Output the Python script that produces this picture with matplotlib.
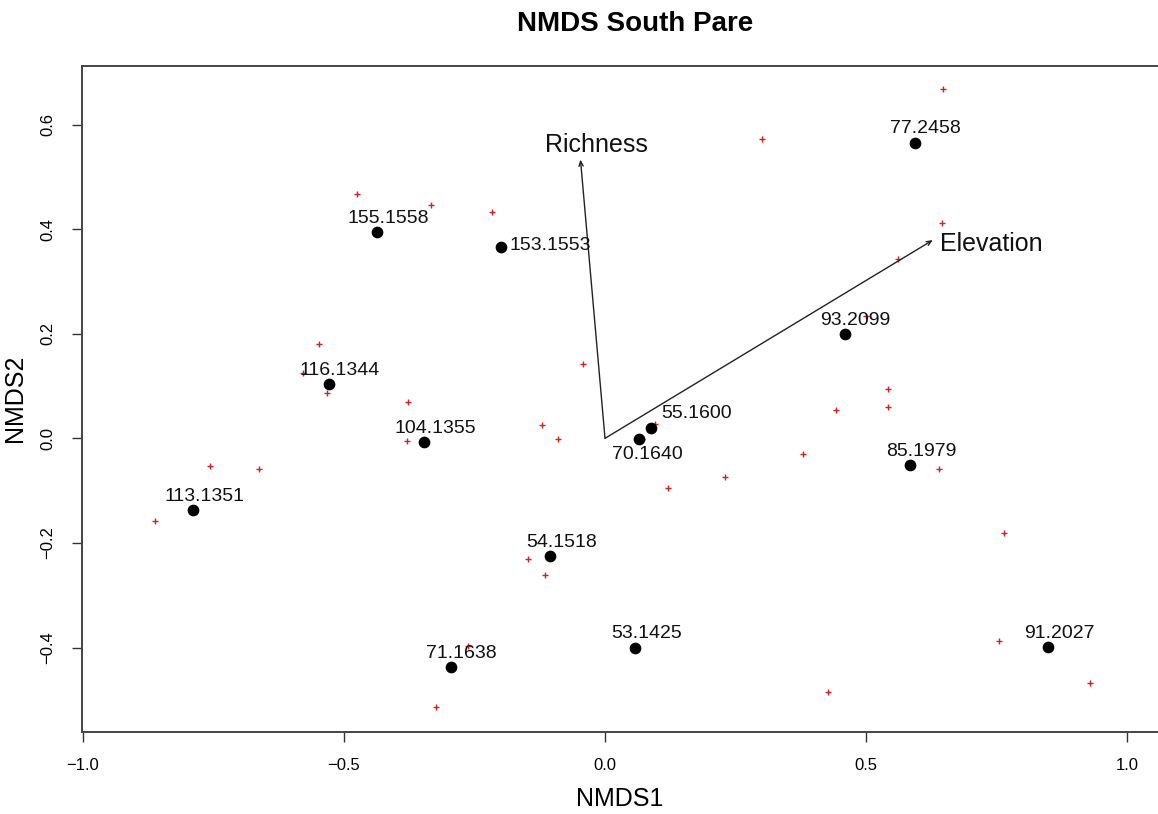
"""
NMDS ordination plot for the South Pare sites
"""

import matplotlib.pyplot as plt

plt.rcParams['font.family'] = ['Liberation Sans', 'DejaVu Sans']

# site scores (black points) and their labels
site_labels = ["155.1558", "116.1344", "113.1351", "153.1553", "104.1355",
               "55.1600", "70.1640", "77.2458", "93.2099", "85.1979",
               "54.1518", "53.1425", "71.1638", "91.2027"]
site_x = [-0.436, -0.529, -0.789, -0.199, -0.347, 0.089, 0.066, 0.593,
          0.459, 0.585, -0.105, 0.058, -0.296, 0.849]
site_y = [0.394, 0.104, -0.137, 0.366, -0.007, 0.020, -0.001, 0.565,
          0.199, -0.051, -0.225, -0.400, -0.438, -0.399]

# species scores (red crosses)
species_x = [-0.476, -0.547, -0.578, -0.533, -0.333, -0.217, -0.042, -0.377,
             -0.379, -0.120, -0.091, 0.071, 0.096, 0.230, 0.121, 0.300,
             -0.757, -0.663, -0.863, 0.648, 0.645, 0.562, 0.500, 0.542,
             0.543, 0.443, 0.379, 0.640, 0.764, 0.755, 0.929, 0.428,
             -0.148, -0.115, -0.324, -0.262]
species_y = [0.467, 0.180, 0.125, 0.087, 0.447, 0.432, 0.143, 0.069,
             -0.005, 0.025, -0.001, -0.001, 0.027, -0.074, -0.095, 0.572,
             -0.053, -0.059, -0.158, 0.667, 0.412, 0.342, 0.234, 0.094,
             0.060, 0.054, -0.030, -0.059, -0.181, -0.388, -0.467, -0.485,
             -0.230, -0.262, -0.513, -0.397]

# fitted environmental vectors
env_names = ["Richness", "Elevation"]
env_x = [-0.047, 0.628]
env_y = [0.533, 0.379]

xticks = [-1.0, -0.5, 0.0, 0.5, 1.0]
yticks = [-0.4, -0.2, 0.0, 0.2, 0.4, 0.6]


def tick_fmt(v):
    return ("%.1f" % v).replace("-", "\u2212")


fig = plt.figure(figsize=(11.58, 8.14), dpi=100)
ax = fig.add_axes([0.0708, 0.1007, 0.9292, 0.8188])

ax.scatter(species_x, species_y, marker='+', s=24, color='#d42020',
           linewidths=1.0, zorder=2)
ax.scatter(site_x, site_y, s=55, color='black', zorder=3)

# label placement: default is above, a few sit elsewhere
offsets = {"153.1553": (6, 1, 'left'),
           "55.1600": (7, 10, 'left'),
           "70.1640": (6, -11, 'center')}
for lab, x, y in zip(site_labels, site_x, site_y):
    dx, dy, ha = offsets.get(lab, (8, 10, 'center'))
    ax.annotate(lab, (x, y), xytext=(dx, dy), textcoords='offset points',
                ha=ha, va='center', fontsize=14, color='#111111', zorder=4)

# vectors drawn from the origin
for x, y in zip(env_x, env_y):
    ax.annotate("", xy=(x, y), xytext=(0, 0),
                arrowprops=dict(arrowstyle='->,head_length=0.35,head_width=0.15',
                                color='#222222', lw=1.0, shrinkA=0, shrinkB=0))
ax.text(env_x[0] + 0.031, env_y[0] + 0.028, env_names[0], fontsize=18,
        ha='center', va='center', color='#111111')
ax.text(env_x[1] + 0.014, env_y[1] - 0.008, env_names[1], fontsize=18,
        ha='left', va='center', color='#111111')

ax.set_xlim(-1.002, 1.0594)
ax.set_ylim(-0.5616, 0.7128)
ax.set_xticks(xticks)
ax.set_yticks(yticks)
ax.set_xticklabels([tick_fmt(v) for v in xticks])
ax.set_yticklabels([tick_fmt(v) for v in yticks], rotation=90, va='center')
ax.tick_params(labelsize=12, length=7, width=1.0, color='#333333', pad=12)
for side in ['left', 'bottom', 'top']:
    ax.spines[side].set_color('#444444')
    ax.spines[side].set_linewidth(1.4)
ax.spines['right'].set_visible(False)

ax.set_xlabel("NMDS1", fontsize=18, labelpad=10)
ax.set_ylabel("NMDS2", fontsize=18, labelpad=10)
fig.text(635 / 1158, 1 - 24 / 814, "NMDS South Pare", fontsize=20,
         fontweight='bold', ha='center', va='center')

fig.savefig("out.png", dpi=100)
